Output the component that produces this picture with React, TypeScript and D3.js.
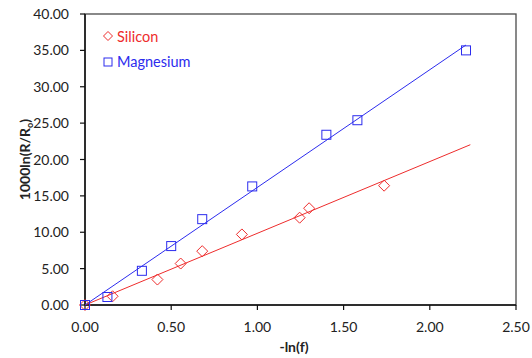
import * as d3 from 'd3';

// Silicon (diamonds)
const siliconX = [0, 0.16, 0.42, 0.555, 0.68, 0.91, 1.245, 1.3, 1.735];
const siliconY = [0, 1.2, 3.5, 5.7, 7.4, 9.7, 12.0, 13.3, 16.4];

// Magnesium (squares)
const magnesiumX = [0, 0.13, 0.33, 0.5, 0.68, 0.97, 1.4, 1.58, 2.21];
const magnesiumY = [0, 1.1, 4.7, 8.1, 11.8, 16.3, 23.4, 25.4, 35.0];

// trendline end points (Excel forecast on silicon)
const siliconTrendEnd = 2.235;
const magnesiumTrendEnd = 2.21;

const xTicks = [0, 0.5, 1.0, 1.5, 2.0, 2.5];
const yTicks = [0, 5, 10, 15, 20, 25, 30, 35, 40];

const RED = '#ee2c2c';
const BLUE = '#2c2cee';
const FONT = 'Lato, "Open Sans", sans-serif';

// least squares through origin
function slopeThroughOrigin(xs: number[], ys: number[]) {
    const sxy = d3.sum(xs, (x, i) => x * ys[i]);
    const sxx = d3.sum(xs, x => x * x);
    return sxy / sxx;
}

export default function App() {
    const width = 532;
    const height = 358;
    const margin = { top: 14, right: 16, bottom: 53, left: 85 };

    const x = d3.scaleLinear().domain([0, 2.5]).range([margin.left, width - margin.right]);
    const y = d3.scaleLinear().domain([0, 40]).range([height - margin.bottom, margin.top]);

    const siSlope = slopeThroughOrigin(siliconX, siliconY);
    const mgSlope = slopeThroughOrigin(magnesiumX, magnesiumY);

    const diamond = (cx: number, cy: number, r = 5.5) =>
        `M${cx},${cy - r}L${cx + r},${cy}L${cx},${cy + r}L${cx - r},${cy}Z`;

    const x0 = margin.left;
    const x1 = width - margin.right;
    const y0 = height - margin.bottom;
    const y1 = margin.top;

    return (
        <div style={{ position: 'fixed', left: 0, top: 0 }}>
            <svg width={width} height={height} style={{ display: 'block', background: '#fff' }}>
                {/* plot frame */}
                <rect x={x0} y={y1} width={x1 - x0} height={y0 - y1} fill="none" stroke="#4a4a4a" strokeWidth={1.3} />
                <line x1={x0} x2={x0} y1={y1} y2={y0} stroke="#111" strokeWidth={1.5} />
                <line x1={x0} x2={x1} y1={y0} y2={y0} stroke="#111" strokeWidth={1.5} />

                {/* y axis */}
                {yTicks.map(t => (
                    <g key={'y' + t}>
                        <line x1={x0 - 5} x2={x0} y1={y(t)} y2={y(t)} stroke="#111" strokeWidth={1.2} />
                        <text x={69} y={y(t)} dy="0.36em" textAnchor="end" fontSize={14} fontFamily={FONT} fill="#222">
                            {t.toFixed(2)}
                        </text>
                    </g>
                ))}

                {/* x axis */}
                {xTicks.map(t => (
                    <g key={'x' + t}>
                        <line x1={x(t)} x2={x(t)} y1={y0} y2={y0 + 5} stroke="#111" strokeWidth={1.2} />
                        <text x={x(t)} y={332} textAnchor="middle" fontSize={14} fontFamily={FONT} fill="#222">
                            {t.toFixed(2)}
                        </text>
                    </g>
                ))}

                <text x={294} y={352} textAnchor="middle" fontSize={14} fontWeight="bold" fontFamily={FONT} fill="#222">
                    -ln(f)
                </text>
                <text transform={`translate(30,${(y0 + y1) / 2}) rotate(-90)`} textAnchor="middle" fontSize={14}
                    fontWeight="bold" fontFamily={FONT} fill="#222">
                    1000ln(R/R<tspan fontSize={9} dy={3}>o</tspan><tspan dy={-3}>)</tspan>
                </text>

                {/* trendlines */}
                <path d={`M${x(0)},${y(0)}L${x(siliconTrendEnd)},${y(siSlope * siliconTrendEnd)}`} stroke={RED} strokeWidth={1} fill="none" />
                <path d={`M${x(0)},${y(0)}L${x(magnesiumTrendEnd)},${y(mgSlope * magnesiumTrendEnd)}`} stroke={BLUE} strokeWidth={1} fill="none" />

                {/* markers */}
                {siliconX.map((v, i) => (
                    <path key={'si' + i} d={diamond(x(v), y(siliconY[i]))} fill="none" stroke={RED} strokeWidth={1} />
                ))}
                {magnesiumX.map((v, i) => (
                    <rect key={'mg' + i} x={x(v) - 4.5} y={y(magnesiumY[i]) - 4.5} width={9} height={9}
                        fill="none" stroke={BLUE} strokeWidth={1} />
                ))}

                {/* legend */}
                <path d={diamond(108, 36, 4.5)} fill="none" stroke={RED} strokeWidth={1} />
                <text x={117} y={42} fontSize={14.5} fontFamily={FONT} fill={RED}>Silicon</text>
                <rect x={104} y={58} width={8} height={8} fill="none" stroke={BLUE} strokeWidth={1} />
                <text x={117} y={67} fontSize={14.5} fontFamily={FONT} fill={BLUE}>Magnesium</text>
            </svg>
        </div>
    );
}
